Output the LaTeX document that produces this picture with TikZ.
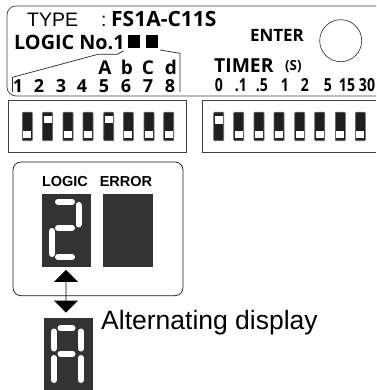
\documentclass[tikz,border=0pt]{standalone}
\usepackage{fontspec}
\setmainfont{Liberation Sans}
\newfontfamily\labelfont{Open Sans}
\usetikzlibrary{positioning}
\usetikzlibrary{shapes.arrows}
\begin{document}
\begin{tikzpicture}[x=1pt,y=-1pt,
    panel/.style={draw=black!75, line width=0.7pt},
    sw/.style={fill=black!88, draw=black!60, line width=0.6pt, rounded corners=0.8pt, minimum width=10pt, minimum height=28.5pt, inner sep=0pt},
    knob/.style={fill=white, inner sep=0pt, minimum width=8pt, minimum height=7.8pt},
    lbl/.style={font=\labelfont\bfseries, inner sep=0pt, anchor=base},
    dsp/.style={fill=black!80, inner sep=0pt, anchor=north west},
    seg/.style={line width=6pt, line cap=round, draw=white},
    brk/.style={draw=black!85, line width=0.7pt},
    blk/.style={fill=black, inner sep=0pt, minimum width=12pt, minimum height=13pt}
    ]
\useasboundingbox (0,0) rectangle (376,390);
% top panel
\draw[panel, rounded corners=9pt] (376,6) -- (7,6) -- (7,96) -- (376,96);
\node[font=\fontsize{19.5}{19.5}\selectfont, inner sep=0pt, anchor=base west] (typelbl) at (27,26.7) {TYPE};
\node[font=\fontsize{19.5}{19.5}\selectfont, inner sep=0pt, anchor=base west] (colon) at (101,26.7) {:};
\node[lbl, font=\labelfont\bfseries\fontsize{21}{21}\selectfont, anchor=base west] (model) at (111,27) {FS1A-C11S};
\node[lbl, font=\labelfont\bfseries\fontsize{19.8}{19.8}\selectfont, anchor=base west] (logicno) at (14,50) {LOGIC No.1};
\node[blk] (bk1) at (134,41.3) {};
\node[blk] (bk2) at (152,41.3) {};
\node[lbl, font=\labelfont\bfseries\fontsize{17}{17}\selectfont] (enter) at (277,41.7) {ENTER};
\node[draw=black!85, circle, line width=0.6pt, minimum size=42pt, inner sep=0pt] (enterbtn) at (340.7,40.7) {};
\node[lbl, font=\labelfont\bfseries\fontsize{19.3}{19.3}\selectfont, anchor=base west] (timer) at (214,72.7) {TIMER};
\node[lbl, font=\labelfont\bfseries\fontsize{14}{14}\selectfont, anchor=base west, xscale=.95] (sec) at (285,71) {(S)};
% logic bracket
\coordinate (brA) at (12.5,92);
\coordinate (brB) at (12.5,77.3);
\coordinate (brC) at (98,54.3);
\coordinate (brD) at (117,54.3);
\coordinate (brE) at (124,50.7);
\coordinate (brF) at (160,50);
\coordinate (brG) at (180,53.3);
\coordinate (brH) at (180,92);
\draw[brk] (brA) -- (brB) -- (brC) -- (brD) -- (brE);
\draw[brk] (brF) -- (brG) -- (brH);
\foreach \num/\xpos in {1/18,2/39,3/61,4/82,5/104,6/126,7/148,8/170}
    \node[lbl, font=\labelfont\bfseries\fontsize{18}{18}\selectfont] (num\num) at (\xpos,92.7) {\num};
\foreach \ch/\xpos in {A/105,b/127,C/148,d/171}
    \node[lbl, font=\labelfont\bfseries\fontsize{19}{19}\selectfont] (ch\ch) at (\xpos,75) {\ch};
\foreach \tm/\xpos in {0/219,.1/241,.5/262,1/285,2/305,5/328,15/347,30/367}
    \node[lbl, font=\labelfont\bfseries\fontsize{18}{18}\selectfont, xscale=.78] (tm\xpos) at (\xpos,91.7) {\tm};
% switch boxes
\draw[panel] (8.7,100) rectangle (186,152.7);
\draw[panel] (202,100) -- (376,100);
\draw[panel] (202,100) -- (202,152.7) -- (376,152.7);
\foreach \xpos/\ypos in {27.3/134.5,47.5/119.5,68/134.5,88/134.5,108.7/119.5,128.3/134.5,149/134.5,168.7/134.5,218.7/120,238.7/134.5,259/134.5,279/134.5,299.7/134.5,319.7/134.5,340.3/134.5,360.3/134.5}{
    \node[sw] (sw\xpos) at (\xpos,126.5) {};
    \node[knob] (kn\xpos) at (\xpos,\ypos) {};
}
% display panel
\draw[panel, draw=black!90, rounded corners=8pt] (13,162) rectangle (183,295.7);
\node[lbl, font=\bfseries\fontsize{14.5}{14.5}\selectfont] (logiclbl) at (65,186) {LOGIC};
\node[lbl, font=\bfseries\fontsize{14.5}{14.5}\selectfont] (errorlbl) at (126,186) {ERROR};
\node[dsp, minimum width=49.4pt, minimum height=72.7pt] (logicdsp) at (41.3,194) {};
\node[dsp, minimum width=49.6pt, minimum height=72.7pt] (errordsp) at (102.7,194) {};
\node[dsp, minimum width=49.4pt, minimum height=72.7pt] (altdsp) at (43.3,317.3) {};
% digit 2
\draw[seg] (58,201.7) -- (72,201.7);
\draw[seg] (78.5,205) -- (78.5,224.5);
\draw[seg] (58,228) -- (72,228);
\draw[seg] (52,231) -- (52,254);
\draw[seg] (58,257) -- (72,257);
% letter A
\draw[seg] (60.5,328.3) -- (72.5,328.3);
\draw[seg] (54,331.5) -- (54,348.5);
\draw[seg] (81,331.5) -- (81,348.5);
\draw[seg] (60.5,353.7) -- (72.5,353.7);
\draw[seg] (54,358) -- (54,380);
\draw[seg] (81,358) -- (81,380);
% alternating arrow
\node[fill=black, double arrow, shape border rotate=90, inner sep=0pt, minimum width=24pt, minimum height=42.7pt, double arrow head extend=6pt] (altarrow) at (66,291.3) {};
\node[font=\fontsize{26.5}{26.5}\selectfont, inner sep=0pt, anchor=base west] (altlbl) at (101,329) {Alternating display};
\end{tikzpicture}
\end{document}
